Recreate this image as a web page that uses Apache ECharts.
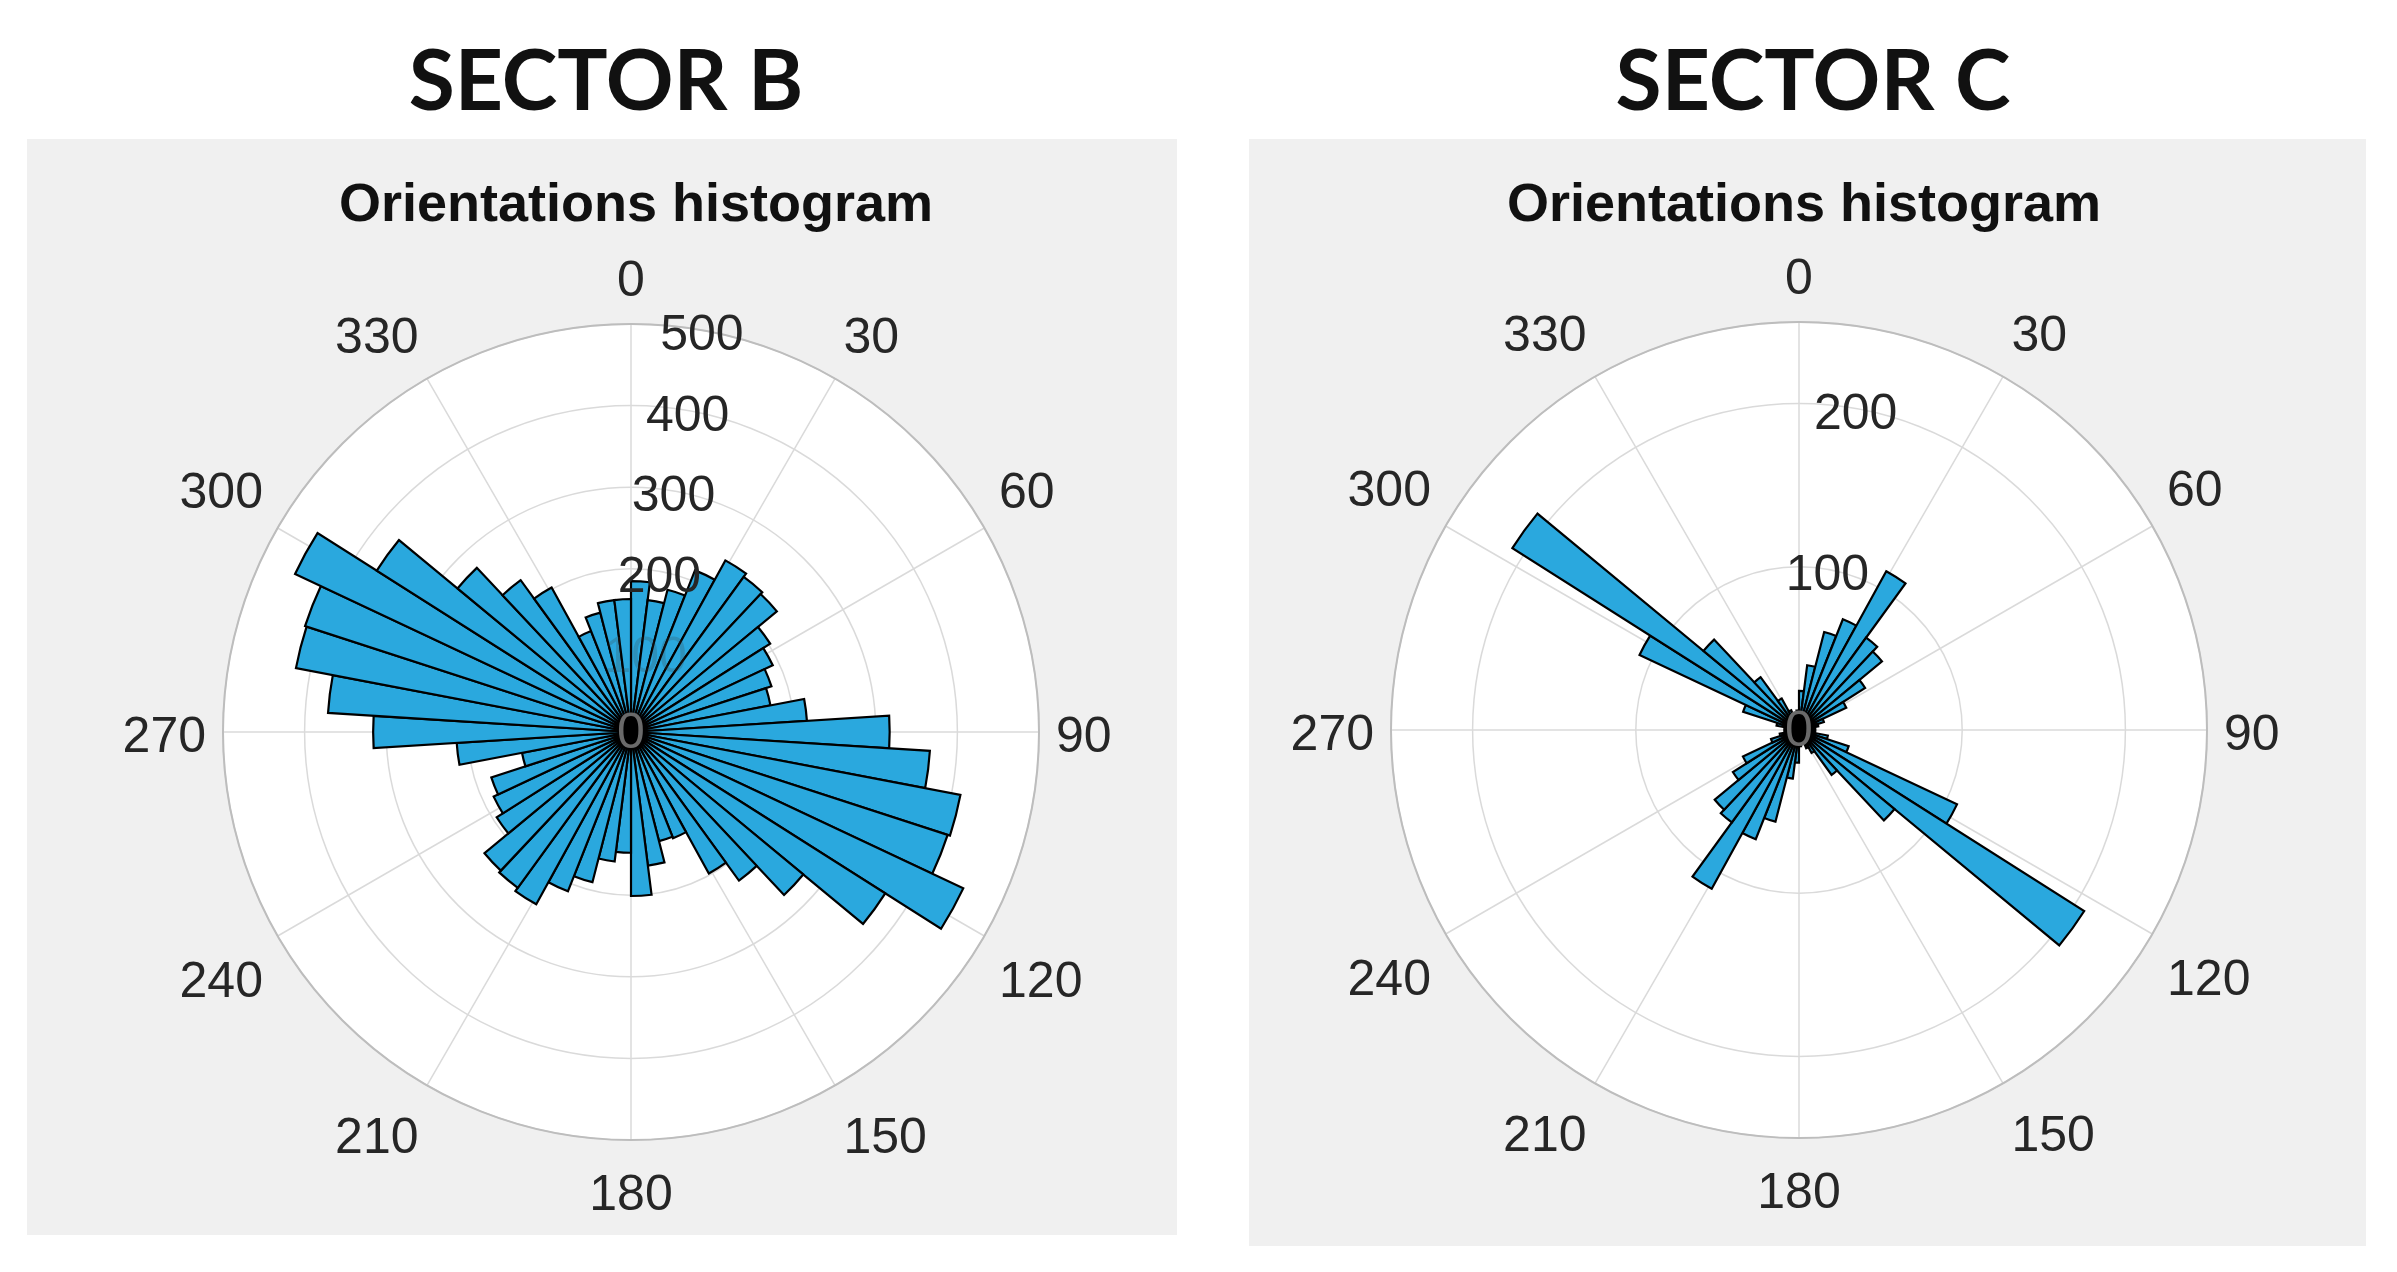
<!DOCTYPE html>
<html>
<head>
<meta charset="utf-8">
<script src="https://cdn.jsdelivr.net/npm/echarts@6/dist/echarts.min.js"></script>
<style>
html,body{margin:0;padding:0;background:#fff;}
#chart{width:2397px;height:1272px;}
</style>
</head>
<body>
<div id="chart"></div>
<script>
// ---- data ----
const thetaTicks = [0, 30, 60, 90, 120, 150, 180, 210, 240, 270, 300, 330];
const binCenters = ['3.6','10.8','18','25.2','32.4','39.6','46.8','54','61.2','68.4',
  '75.6','82.8','90','97.2','104.4','111.6','118.8','126','133.2','140.4',
  '147.6','154.8','162','169.2','176.4','183.6','190.8','198','205.2','212.4',
  '219.6','226.8','234','241.2','248.4','255.6','262.8','270','277.2','284.4',
  '291.6','298.8','306','313.2','320.4','327.6','334.8','342','349.2','356.4'];
const sectorBCounts = [185,163,180,213,240,235,232,202,192,181,
  174,216,317,367,411,408,450,369,274,225,
  198,140,138,165,201,148,160,190,210,241,
  236,233,195,186,180,136,214,316,372,418,
  420,455,369,276,230,202,133,151,163,163];
const sectorCCounts = [24,40,62,73,111,70,66,48,32,16,
  12,10,9,10,18,32,107,207,76,34,
  16,12,9,8,10,20,30,58,72,111,
  70,67,48,38,18,12,9,8,9,14,
  36,108,208,76,40,22,13,10,9,12];
const rTicksB = [0, 100, 200, 300, 400, 500];
const rTicksC = [0, 100, 200];
const rMaxB = 500;
const rMaxC = 250;
const titles = ['SECTOR B', 'SECTOR C'];
const subTitle = 'Orientations histogram';

// ---- styles ----
const FONT = "'Liberation Sans', Arial, Helvetica, sans-serif";
const LABEL_COLOR = '#262626';
const GRID_COLOR = '#dadada';
const BAR_COLOR = '#2aa8de';

const panels = [
  {center: [631, 732], radius: 408, panel: {x: 27, y: 139, w: 1150, h: 1096}, titleX: 601, hidden: [100]},
  {center: [1799, 730], radius: 408, panel: {x: 1249, y: 139, w: 1117, h: 1107}, titleX: 1808, hidden: []}
];

const polar = [];
const angleAxis = [];
const radiusAxis = [];
const series = [];
const graphic = [];
const title = [];

const tickStyle = {fontSize: 50, fontFamily: FONT, color: LABEL_COLOR};
function thetaLabel(v) {
  if (thetaTicks.indexOf(v) < 0) return '';
  if (v === 90 || v === 270) return '{mid|' + v + '}';
  if (v > 90 && v < 270) return '{lo|' + v + '}';
  return '{up|' + v + '}';
}

function addChart(idx, counts, rTicks, rMax) {
  const p = panels[idx];
  const base = polar.length;
  for (let i = 0; i < 4; i++) polar.push({center: p.center, radius: p.radius});
  // white disk polar (drawn first, lowest)
  angleAxis.push({
    polarIndex: base, type: 'value', min: 0, max: 360, interval: 90, startAngle: 90, clockwise: true,
    z: -2,
    axisLine: {show: false}, axisTick: {show: false}, axisLabel: {show: false},
    splitLine: {show: false},
    splitArea: {show: true, areaStyle: {color: ['#ffffff']}}
  });
  radiusAxis.push({
    polarIndex: base, type: 'value', min: 0, max: rMax, z: -2,
    axisLine: {show: false}, axisTick: {show: false}, axisLabel: {show: false},
    splitLine: {show: false}
  });
  // grid polar
  angleAxis.push({
    polarIndex: base + 1, type: 'value', min: thetaTicks[0], max: 360,
    interval: thetaTicks[1] - thetaTicks[0], startAngle: 90, clockwise: true, z: 0,
    axisLine: {show: true, lineStyle: {color: '#bdbdbd', width: 2}},
    axisTick: {show: false},
    axisLabel: {show: true, margin: 17, fontSize: 50, fontFamily: FONT, color: LABEL_COLOR,
      formatter: thetaLabel,
      rich: {
        up: Object.assign({}, tickStyle),
        mid: Object.assign({padding: [12, 0, 0, 0]}, tickStyle),
        lo: Object.assign({padding: [14, 0, 0, 0]}, tickStyle)
      }},
    splitLine: {show: true, lineStyle: {color: GRID_COLOR, width: 1.5}},
    splitArea: {show: false}
  });
  radiusAxis.push({
    polarIndex: base + 1, type: 'value', min: 0, max: rMax, interval: 100, z: 0,
    axisLine: {show: false}, axisTick: {show: false}, axisLabel: {show: false},
    splitLine: {show: true, lineStyle: {color: GRID_COLOR, width: 1.5}}
  });
  // bar polar
  angleAxis.push({
    polarIndex: base + 2, type: 'category', data: binCenters, startAngle: 90, clockwise: true,
    boundaryGap: true,
    axisLine: {show: false}, axisTick: {show: false}, axisLabel: {show: false},
    splitLine: {show: false}
  });
  radiusAxis.push({
    polarIndex: base + 2, type: 'value', min: 0, max: rMax,
    axisLine: {show: false}, axisTick: {show: false}, axisLabel: {show: false},
    splitLine: {show: false}
  });
  // radius label polar (labels at 10 deg clockwise from north)
  angleAxis.push({
    polarIndex: base + 3, type: 'value', min: 0, max: 360, startAngle: 80, clockwise: true,
    show: false
  });
  radiusAxis.push({
    polarIndex: base + 3, type: 'value', min: 0, max: rMax, interval: 100, z: 10,
    axisLine: {show: false}, axisTick: {show: false}, splitLine: {show: false},
    axisLabel: {show: true, margin: 0, align: 'center', verticalAlign: 'middle',
      fontSize: 50, fontFamily: FONT, color: LABEL_COLOR, showMaxLabel: true,
      formatter: v => (rTicks.indexOf(v) < 0 ? '' :
        (v === 0 ? '{z|0}' : (p.hidden.indexOf(v) >= 0 ? '{h|' + v + '}' : '{n|' + v + '}'))),
      rich: {
        n: {color: LABEL_COLOR, fontSize: 50, fontFamily: FONT, padding: [13, 0, 0, 0]},
        z: {color: '#6a6a6a', fontSize: 50, fontFamily: FONT, padding: [4, 0, 0, 0]},
        h: {color: 'rgba(60,60,60,0.22)', fontSize: 50, fontFamily: FONT, padding: [13, 0, 0, 0]}
      }}
  });
  series.push({
    type: 'bar', coordinateSystem: 'polar', polarIndex: base + 2,
    data: counts, barCategoryGap: '0%', barGap: '0%',
    itemStyle: {color: BAR_COLOR, borderColor: '#000000', borderWidth: 2.2},
    emphasis: {disabled: true}, silent: true, z: 2
  });
  graphic.push({
    type: 'rect', z: -10, silent: true,
    shape: {x: p.panel.x, y: p.panel.y, width: p.panel.w, height: p.panel.h},
    style: {fill: '#f0f0f0'}
  });
  title.push({
    text: titles[idx], left: p.titleX, top: 36, textAlign: 'center',
    textStyle: {fontFamily: "Lato, 'Open Sans', sans-serif", fontWeight: 'bold', fontSize: 84, color: '#111111'}
  });
  title.push({
    text: subTitle, left: p.center[0], top: 174, textAlign: 'center',
    textStyle: {fontFamily: FONT, fontWeight: 'bold', fontSize: 54, color: '#111111'}
  });
}

addChart(0, sectorBCounts, rTicksB, rMaxB);
addChart(1, sectorCCounts, rTicksC, rMaxC);

const chart = echarts.init(document.getElementById('chart'), null, {renderer: 'canvas'});
chart.setOption({
  backgroundColor: '#ffffff',
  animation: false,
  title: title,
  graphic: graphic,
  polar: polar,
  angleAxis: angleAxis,
  radiusAxis: radiusAxis,
  series: series
});
</script>
</body>
</html>
